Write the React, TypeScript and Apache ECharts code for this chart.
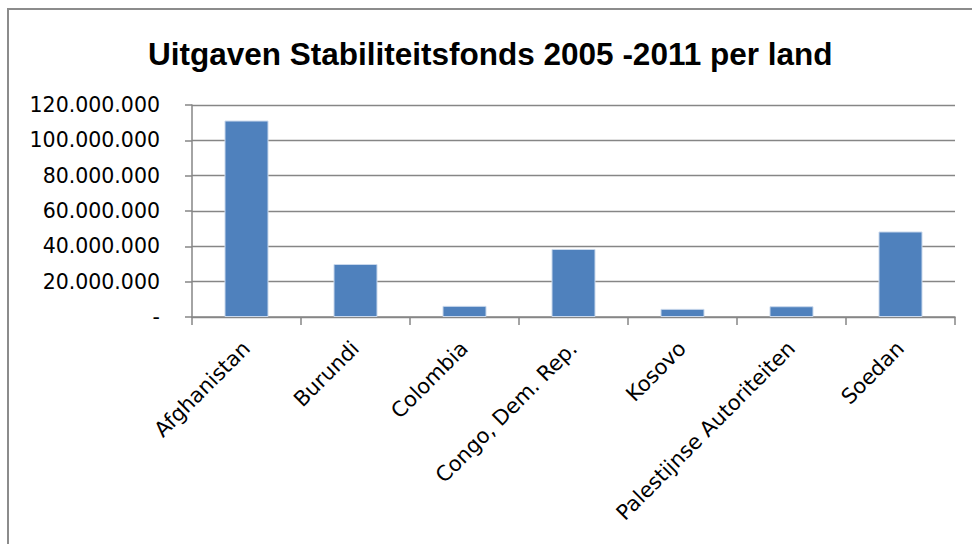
import React, { useEffect, useRef } from "react";
import * as echarts from "echarts";

const titleText = "Uitgaven Stabiliteitsfonds 2005 -2011 per land";
const categories = [
  "Afghanistan",
  "Burundi",
  "Colombia",
  "Congo, Dem. Rep.",
  "Kosovo",
  "Palestijnse Autoriteiten",
  "Soedan",
];
const values = [111200000, 30000000, 6300000, 38500000, 4600000, 6100000, 48400000];
const yMin = 0;
const yMax = 120000000;
const yInterval = 20000000;

const fmt = (v: number) =>
  v === 0 ? "-" : String(Math.round(v)).replace(/\B(?=(\d{3})+(?!\d))/g, ".");

export default function App() {
  const ref = useRef<HTMLDivElement>(null);
  useEffect(() => {
    document.body.style.margin = "0";
    if (!ref.current) return;
    const chart = echarts.init(ref.current, undefined, { renderer: "svg" });
    const axisColor = "#868686";
    const labelFont = "'DejaVu Sans', sans-serif";
    chart.setOption({
      animation: false,
      backgroundColor: "#ffffff",
      title: {
        text: titleText,
        left: 143,
        top: 33,
        textStyle: {
          fontFamily: "'Liberation Sans', Arial, sans-serif",
          fontWeight: "bold",
          fontSize: 31.5,
          color: "#000000",
        },
      },
      graphic: [
        {
          type: "rect",
          shape: { x: 8, y: 9, width: 1100, height: 700 },
          style: { fill: "none", stroke: "#8c8c8c", lineWidth: 2 },
          silent: true,
        },
      ],
      grid: { left: 192, right: 17, top: 105, bottom: 227, containLabel: false },
      xAxis: {
        type: "category",
        data: categories,
        boundaryGap: true,
        axisLine: { show: true, lineStyle: { color: axisColor, width: 1.5 } },
        axisTick: { show: true, interval: 0, length: 8, lineStyle: { color: axisColor, width: 1.5 } },
        axisLabel: {
          interval: 0,
          rotate: 45,
          margin: 28,
          color: "#000000",
          fontFamily: labelFont,
          fontSize: 21,
        },
        splitLine: { show: false },
      },
      yAxis: {
        type: "value",
        min: yMin,
        max: yMax,
        interval: yInterval,
        axisLine: { show: true, lineStyle: { color: axisColor, width: 1.5 } },
        axisTick: { show: true, length: 7, lineStyle: { color: axisColor, width: 1.5 } },
        axisLabel: {
          margin: 32,
          color: "#000000",
          fontFamily: labelFont,
          fontSize: 20.5,
          formatter: (v: number) => fmt(v),
        },
        splitLine: { show: true, lineStyle: { color: axisColor, width: 1.3 } },
      },
      series: [
        {
          type: "bar",
          data: values,
          barWidth: 44,
          itemStyle: { color: "#4F81BD", borderColor: "#c9d8ec", borderWidth: 1 },
        },
      ],
    });
    return () => chart.dispose();
  }, []);
  return <div ref={ref} style={{ width: 972, height: 544 }} />;
}
